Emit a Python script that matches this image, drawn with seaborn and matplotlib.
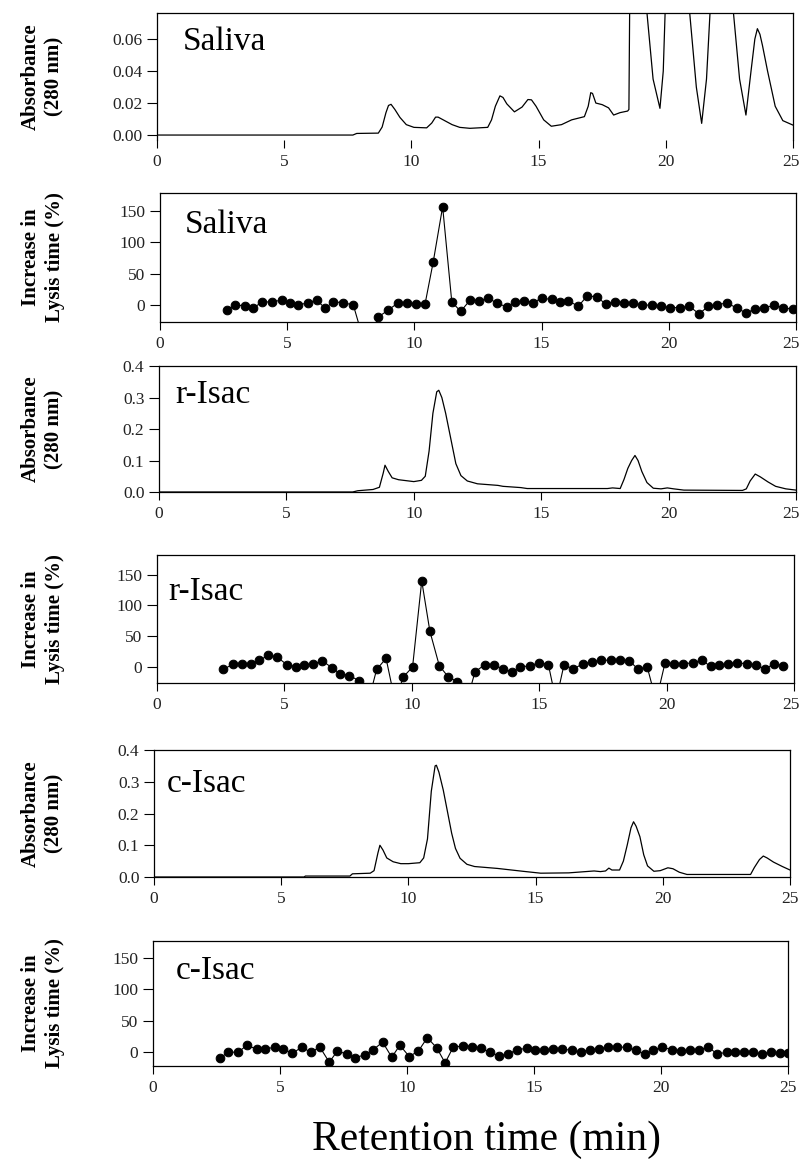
import numpy as np
import pandas as pd
import matplotlib
matplotlib.use("Agg")
import matplotlib.pyplot as plt
import matplotlib.transforms as mtransforms
import seaborn as sns
from matplotlib.ticker import FormatStrFormatter

# ---------------- data ----------------
# Panel 1: Saliva absorbance (280 nm) chromatogram
sal_abs_t = [0.0, 7.7, 7.85, 8.7, 8.85, 9.0, 9.1, 9.2, 9.35, 9.55, 9.8, 10.1, 10.6, 10.8, 10.95, 11.05,
             11.25, 11.6, 11.9, 12.3, 13.0, 13.15, 13.3, 13.48, 13.6, 13.75, 14.05, 14.35, 14.58, 14.72,
             14.9, 15.2, 15.5, 15.9, 16.3, 16.8, 16.95, 17.05, 17.12, 17.25, 17.5, 17.75, 17.95,
             18.2, 18.5, 18.55, 18.58, 18.9, 19.25, 19.5, 19.77, 19.9, 19.98, 20.45, 20.93, 21.2,
             21.41, 21.6, 21.75, 22.2, 22.65, 22.9, 23.15, 23.35, 23.5, 23.6, 23.7, 23.8, 24.0,
             24.3, 24.6, 25.0]
sal_abs_v = [0.0, 0.0, 0.001, 0.0012, 0.005, 0.014, 0.0185, 0.0192, 0.016, 0.011, 0.0065, 0.0048,
             0.0045, 0.0075, 0.0112, 0.0112, 0.0095, 0.0065, 0.0048, 0.0042, 0.0048, 0.0095, 0.018,
             0.0245, 0.0235, 0.0195, 0.0145, 0.0175, 0.0222, 0.022, 0.018, 0.0095, 0.0055, 0.0065,
             0.0095, 0.0115, 0.018, 0.0265, 0.026, 0.020, 0.019, 0.017, 0.0125, 0.014, 0.015, 0.016,
             0.08, 0.2, 0.078, 0.035, 0.0167, 0.04, 0.08, 0.25, 0.078, 0.03, 0.0073, 0.035, 0.08,
             0.2, 0.078, 0.035, 0.0125, 0.04, 0.06, 0.0665, 0.063, 0.056, 0.04, 0.018, 0.009, 0.0062]

# Panel 2: Saliva lysis-time increase
sal_lys_t = [2.62, 2.95, 3.34, 3.67, 4.00, 4.39, 4.78, 5.11, 5.44, 5.83, 6.16, 6.49, 6.81, 7.20,
             7.60, 8.10, 8.58, 8.97, 9.37, 9.70, 10.05, 10.42, 10.74, 11.11, 11.47, 11.82, 12.19,
             12.54, 12.90, 13.26, 13.63, 13.95, 14.31, 14.67, 15.00, 15.40, 15.72, 16.05, 16.44,
             16.80, 17.16, 17.52, 17.89, 18.24, 18.60, 18.96, 19.33, 19.68, 20.05, 20.44, 20.81,
             21.19, 21.55, 21.91, 22.28, 22.67, 23.02, 23.39, 23.74, 24.14, 24.50, 24.90]
sal_lys_v = [-8, 0, -1, -5, 5, 5, 8, 4, 0, 4, 8, -5, 5, 4, 0, -70, -19, -8, 4, 3, 2, 2, 69, 157,
             5, -10, 8, 7, 11, 3, -3, 5, 7, 4, 11, 9, 5, 7, -2, 15, 13, 2, 5, 4, 3, 0, 0, -2, -4,
             -4, -2, -14, -2, 0, 4, -5, -12, -7, -5, 0, -4, -7]

# Panel 3: r-Isac absorbance
risac_abs_t = [0.0, 7.6, 7.8, 8.4, 8.65, 8.8, 8.87, 9.0, 9.15, 9.4, 9.7, 10.0, 10.3, 10.45, 10.6,
               10.75, 10.9, 10.98, 11.1, 11.25, 11.45, 11.65, 11.85, 12.1, 12.5, 13.3, 13.5, 14.2,
               14.45, 17.6, 17.8, 18.1, 18.25, 18.4, 18.55, 18.68, 18.8, 18.95, 19.15, 19.4, 19.7,
               19.95, 20.2, 20.6, 22.9, 23.05, 23.2, 23.4, 23.6, 23.9, 24.2, 24.6, 25.0]
risac_abs_v = [0.0, 0.0, 0.004, 0.008, 0.015, 0.06, 0.085, 0.065, 0.045, 0.039, 0.036, 0.033,
               0.037, 0.05, 0.13, 0.25, 0.318, 0.323, 0.30, 0.25, 0.17, 0.09, 0.052, 0.035, 0.026,
               0.021, 0.018, 0.014, 0.011, 0.011, 0.013, 0.011, 0.04, 0.075, 0.1, 0.116, 0.1,
               0.065, 0.03, 0.012, 0.01, 0.013, 0.01, 0.006, 0.005, 0.01, 0.035, 0.057, 0.048,
               0.032, 0.018, 0.01, 0.006]

# Panel 4: r-Isac lysis-time increase
risac_lys_t = [2.60, 3.00, 3.32, 3.68, 4.02, 4.37, 4.72, 5.09, 5.46, 5.77, 6.14, 6.49, 6.86, 7.18,
               7.55, 7.92, 8.27, 8.62, 8.99, 9.34, 9.67, 10.03, 10.39, 10.71, 11.08, 11.43, 11.79,
               12.13, 12.48, 12.87, 13.23, 13.57, 13.93, 14.25, 14.64, 15.00, 15.36, 15.66, 15.97,
               16.34, 16.71, 17.06, 17.43, 17.81, 18.17, 18.54, 18.89, 19.24, 19.59, 19.94, 20.29,
               20.66, 21.02, 21.38, 21.73, 22.07, 22.42, 22.78, 23.14, 23.51, 23.86, 24.22, 24.58]
risac_lys_v = [-4, 5, 5, 5, 11, 19, 16, 4, 0, 3, 5, 10, -1, -11, -14, -22, -60, -4, 14, -55, -16,
               0, 140, 58, 2, -16, -24, -60, -8, 4, 3, -3, -8, 0, 2, 7, 4, -55, 3, -3, 5, 8, 11,
               11, 11, 10, -4, 0, -55, 7, 5, 5, 7, 11, 1, 3, 5, 7, 5, 3, -3, 5, 2]

# Panel 5: c-Isac absorbance
cisac_abs_t = [0.0, 5.9, 5.95, 7.7, 7.8, 8.5, 8.65, 8.8, 8.88, 9.0, 9.15, 9.4, 9.7, 10.0, 10.45,
               10.6, 10.75, 10.9, 11.05, 11.1, 11.2, 11.37, 11.55, 11.7, 11.85, 12.03, 12.3, 12.6,
               13.5, 14.5, 15.2, 16.3, 17.3, 17.55, 17.75, 17.88, 18.0, 18.3, 18.45, 18.6, 18.75,
               18.85, 18.95, 19.1, 19.25, 19.4, 19.65, 19.9, 20.2, 20.4, 20.65, 20.95, 23.45,
               23.6, 23.8, 23.95, 24.1, 24.35, 24.7, 25.0]
cisac_abs_v = [0.0, 0.0, 0.003, 0.003, 0.01, 0.012, 0.02, 0.075, 0.1, 0.085, 0.06, 0.048, 0.042,
               0.042, 0.045, 0.06, 0.12, 0.27, 0.35, 0.352, 0.33, 0.274, 0.2, 0.138, 0.09, 0.059,
               0.04, 0.033, 0.027, 0.018, 0.012, 0.013, 0.019, 0.017, 0.019, 0.028, 0.022, 0.022,
               0.05, 0.1, 0.155, 0.174, 0.16, 0.127, 0.07, 0.035, 0.018, 0.02, 0.029, 0.026, 0.015,
               0.008, 0.008, 0.03, 0.055, 0.066, 0.06, 0.047, 0.033, 0.022]

# Panel 6: c-Isac lysis-time increase
cisac_lys_t = [2.64, 2.97, 3.36, 3.69, 4.08, 4.41, 4.80, 5.13, 5.49, 5.85, 6.21, 6.57, 6.94, 7.26,
               7.62, 7.95, 8.35, 8.67, 9.04, 9.40, 9.72, 10.09, 10.45, 10.80, 11.17, 11.50, 11.82,
               12.22, 12.55, 12.90, 13.27, 13.62, 13.99, 14.32, 14.71, 15.04, 15.39, 15.76, 16.11,
               16.48, 16.84, 17.20, 17.56, 17.93, 18.28, 18.65, 19.00, 19.37, 19.70, 20.05, 20.42,
               20.78, 21.14, 21.50, 21.86, 22.22, 22.59, 22.91, 23.27, 23.63, 23.96, 24.32, 24.69,
               25.00]
cisac_lys_v = [-9, 0, 0, 11, 5, 5, 8, 5, -2, 8, 0, 8, -16, 2, -3, -9, -4, 4, 16, -8, 11, -7, 2,
               23, 7, -17, 8, 10, 9, 6, 0, -6, -3, 4, 6, 3, 3, 5, 5, 3, 0, 4, 5, 8, 8, 8, 3, -3, 3,
               8, 4, 2, 3, 4, 8, -3, 0, 0, 0, 0, -3, 0, -2, -2]

x_ticks = [0, 5, 10, 15, 20, 25]
abs_label = "Absorbance\n(280 nm)"
lys_label = "Increase in\nLysis time (%)"
x_label = "Retention time (min)"

# ---------------- style ----------------
sns.set_theme(style="ticks")
plt.rcParams['font.family'] = ['Liberation Serif', 'DejaVu Serif']
plt.rcParams.update({
    'axes.edgecolor': 'black', 'axes.linewidth': 0.9,
    'xtick.color': 'black', 'ytick.color': 'black',
    'xtick.labelcolor': '#222222', 'ytick.labelcolor': '#222222',
})

W, H = 802, 1170
fig = plt.figure(figsize=(W / 100, H / 100), dpi=100)
fig.patch.set_facecolor('white')

panels = [
    dict(box=(157, 13, 793, 140), kind='abs', t=sal_abs_t, v=sal_abs_v, ylim=(-0.0031, 0.0763),
         yticks=[0.0, 0.02, 0.04, 0.06], fmt='%.2f', name='Saliva', name_xy=(183, 50),
         ylabel=abs_label, nobottom=True),
    dict(box=(160, 193, 796, 322), kind='lys', t=sal_lys_t, v=sal_lys_v, ylim=(-27, 179),
         yticks=[0, 50, 100, 150], fmt='%d', name='Saliva', name_xy=(185, 233), ylabel=lys_label),
    dict(box=(159, 366, 796, 492), kind='abs', t=risac_abs_t, v=risac_abs_v, ylim=(0, 0.4),
         yticks=[0.0, 0.1, 0.2, 0.3, 0.4], fmt='%.1f', name='r-Isac', name_xy=(175, 403),
         ylabel=abs_label),
    dict(box=(157, 555, 794, 683), kind='lys', t=risac_lys_t, v=risac_lys_v, ylim=(-26, 182),
         yticks=[0, 50, 100, 150], fmt='%d', name='r-Isac', name_xy=(168, 600), ylabel=lys_label),
    dict(box=(154, 750, 790, 877), kind='abs', t=cisac_abs_t, v=cisac_abs_v, ylim=(0, 0.4),
         yticks=[0.0, 0.1, 0.2, 0.3, 0.4], fmt='%.1f', name='c-Isac', name_xy=(167, 792),
         ylabel=abs_label),
    dict(box=(153, 941, 788, 1066), kind='lys', t=cisac_lys_t, v=cisac_lys_v, ylim=(-22, 177),
         yticks=[0, 50, 100, 150], fmt='%d', name='c-Isac', name_xy=(176, 979), ylabel=lys_label),
]

for p in panels:
    l, t, r, b = p['box']
    ax = fig.add_axes([l / W, 1 - b / H, (r - l) / W, (b - t) / H])
    ax.set_facecolor('white')
    df = pd.DataFrame({'time': p['t'], 'value': p['v']})
    if p['kind'] == 'abs':
        sns.lineplot(data=df, x='time', y='value', sort=False, estimator=None,
                     color='black', linewidth=0.9, ax=ax)
    else:
        sns.lineplot(data=df, x='time', y='value', sort=False, estimator=None,
                     color='black', linewidth=0.8, marker='o', markersize=6.2,
                     markeredgecolor='black', markerfacecolor='black', ax=ax)
    ax.set_xlim(0, 25)
    ax.set_ylim(*p['ylim'])
    ax.set_xticks(x_ticks)
    ax.set_yticks(p['yticks'])
    ax.yaxis.set_major_formatter(FormatStrFormatter(p['fmt']))
    ax.set_xlabel('')
    ax.set_ylabel('')
    ax.tick_params(axis='y', direction='out', length=7.5, width=0.8, pad=3, labelsize=12.5)
    ax.tick_params(axis='x', direction='out', length=6, width=0.8, pad=4, labelsize=12.5)
    for s in ax.spines.values():
        s.set_visible(True)
        s.set_color('black')
        s.set_linewidth(0.9)
    if p.get('nobottom'):
        ax.spines['bottom'].set_visible(False)
    # keep the last x tick label ("25") inside the canvas, as in the reference
    if r > 791:
        last = ax.get_xticklabels()[-1]
        shift = (r - 791) / 100.0
        last.set_transform(last.get_transform() +
                           mtransforms.ScaledTranslation(-shift, 0, fig.dpi_scale_trans))
    nx, ny = p['name_xy']
    fig.text(nx / W, 1 - ny / H, p['name'], fontsize=24, ha='left', va='baseline',
             color='black')
    fig.text(43 / W, 1 - ((t + b) / 2) / H, p['ylabel'], rotation=90, ha='center',
             va='center', fontsize=15, fontweight='bold', linespacing=1.25,
             multialignment='center', color='black')

fig.text(487 / W, 1 - 1140 / H, x_label, fontsize=30, ha='center', va='center', color='black')

fig.savefig('out.png', dpi=100, facecolor='white')
